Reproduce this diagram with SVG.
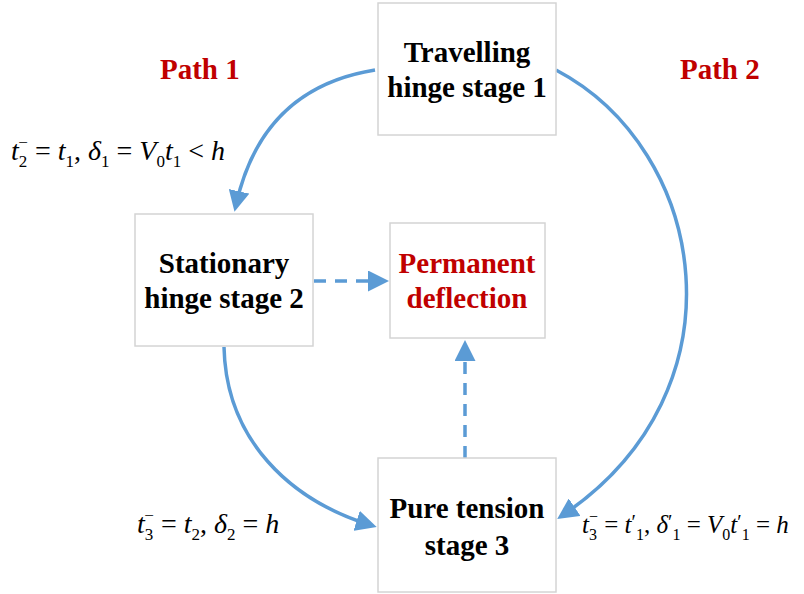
<svg xmlns="http://www.w3.org/2000/svg" width="804" height="594" viewBox="0 0 804 594">
<style>
.box{fill:#fff;stroke:#d4d4d4;stroke-width:1.5}
.t{font-family:"Liberation Serif",serif;font-weight:bold;font-size:29px;text-anchor:middle;fill:#000}
.red{fill:#c00000}
.lbl{font-family:"Liberation Serif",serif;font-weight:bold;font-size:29px;fill:#c00000}
.m{font-family:"Liberation Serif",serif;font-size:28px;fill:#000}
.c{fill:none;stroke:#5b9bd5;stroke-width:3.5}
.d{stroke-dasharray:12,9}
</style>
<defs>
<marker id="ah" markerWidth="6" markerHeight="6" refX="4" refY="3" orient="auto" markerUnits="strokeWidth"><path d="M0,0 L6,3 L0,6 Z" fill="#5b9bd5"/></marker>
</defs>
<rect width="804" height="594" fill="#fff"/>
<g id="connectors">
<path class="c" d="M375,70 Q262,88 236,205" marker-end="url(#ah)"/>
<path class="c" d="M556,70 C708,150 748,390 563,515" marker-end="url(#ah)"/>
<path class="c" d="M224,347 C226,440 290,500 370,525" marker-end="url(#ah)"/>
<path class="c d" d="M314,281 L382,281" marker-end="url(#ah)"/>
<path class="c d" d="M465,458 L465,347" marker-end="url(#ah)"/>
</g>
<g id="node1"><rect class="box" x="378" y="3" width="178" height="132"/><text class="t" x="467" y="62">Travelling</text><text class="t" x="467" y="97">hinge stage 1</text></g>
<g id="node2"><rect class="box" x="135" y="214" width="178" height="132"/><text class="t" x="224" y="273">Stationary</text><text class="t" x="224" y="308">hinge stage 2</text></g>
<g id="node3"><rect class="box" x="390" y="223" width="155" height="115"/><text class="t red" x="467" y="273">Permanent</text><text class="t red" x="467" y="308">deflection</text></g>
<g id="node4"><rect class="box" x="378" y="458" width="178" height="134"/><text class="t" x="467" y="518">Pure tension</text><text class="t" x="467" y="555">stage 3</text></g>
<text class="lbl" x="160" y="79">Path 1</text>
<text class="lbl" x="680" y="79">Path 2</text>
<text class="m" x="11" y="160"><tspan font-style="italic">t</tspan><tspan font-size="17" dy="7">2</tspan><tspan font-size="17" dx="-9" dy="-19">−</tspan><tspan dy="12"> = </tspan><tspan font-style="italic">t</tspan><tspan font-size="17" dy="7">1</tspan><tspan dy="-7">, </tspan><tspan font-style="italic">δ</tspan><tspan font-size="17" dy="7">1</tspan><tspan dy="-7"> = </tspan><tspan font-style="italic">V</tspan><tspan font-size="17" dy="7">0</tspan><tspan font-style="italic" dy="-7">t</tspan><tspan font-size="17" dy="7">1</tspan><tspan dy="-7"> &lt; </tspan><tspan font-style="italic">h</tspan></text>
<text class="m" x="137" y="533"><tspan font-style="italic">t</tspan><tspan font-size="17" dy="7">3</tspan><tspan font-size="17" dx="-9" dy="-19">−</tspan><tspan dy="12"> = </tspan><tspan font-style="italic">t</tspan><tspan font-size="17" dy="7">2</tspan><tspan dy="-7">, </tspan><tspan font-style="italic">δ</tspan><tspan font-size="17" dy="7">2</tspan><tspan dy="-7"> = </tspan><tspan font-style="italic">h</tspan></text>
<text class="m" x="582" y="533" style="font-size:25px"><tspan font-style="italic">t</tspan><tspan font-size="16" dy="7">3</tspan><tspan font-size="16" dx="-8" dy="-18">−</tspan><tspan dy="11"> = </tspan><tspan font-style="italic">t</tspan><tspan font-size="20" dy="-4">′</tspan><tspan font-size="16" dy="11">1</tspan><tspan dy="-7">, </tspan><tspan font-style="italic">δ</tspan><tspan font-size="20" dy="-4">′</tspan><tspan font-size="16" dy="11">1</tspan><tspan dy="-7"> = </tspan><tspan font-style="italic">V</tspan><tspan font-size="16" dy="7">0</tspan><tspan font-style="italic" dy="-7">t</tspan><tspan font-size="20" dy="-4">′</tspan><tspan font-size="16" dy="11">1</tspan><tspan dy="-7"> = </tspan><tspan font-style="italic">h</tspan></text>
</svg>
